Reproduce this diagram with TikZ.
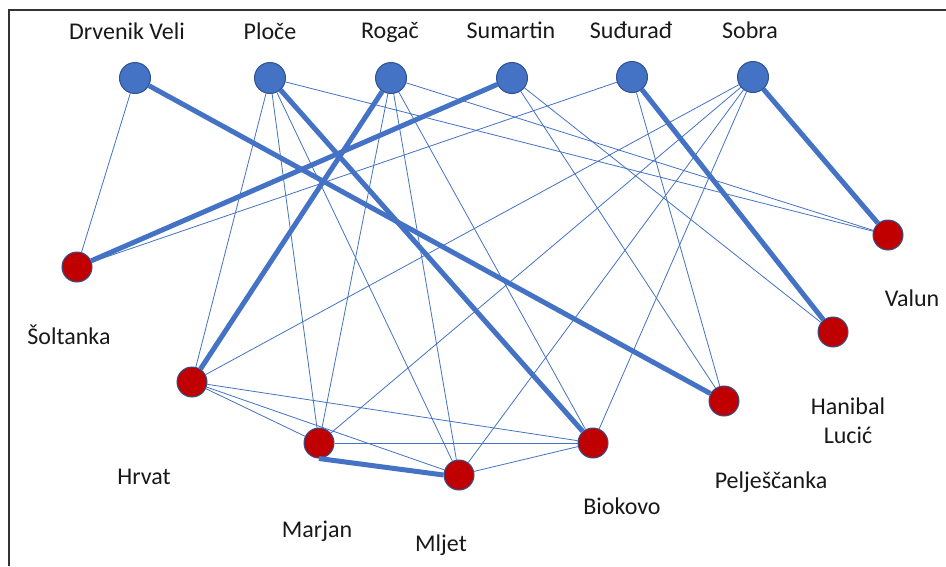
\documentclass[tikz,border=0pt]{standalone}
\usepackage{fontspec}
\setmainfont{Carlito}
\definecolor{nodeblue}{HTML}{4472C4}
\definecolor{rimblue}{HTML}{2F528F}
\definecolor{nodered}{HTML}{C00000}
\definecolor{lineblue}{HTML}{4472C4}
\begin{document}
\begin{tikzpicture}[x=1pt,y=-1pt,
  island/.style={circle, fill=nodeblue, draw=rimblue, line width=1pt, minimum size=31pt, inner sep=0pt},
  boat/.style={circle, fill=nodered, draw=rimblue, line width=1pt, minimum size=30pt, inner sep=0pt},
  lbl/.style={anchor=base, font=\fontsize{24}{26}\selectfont, text=black!90, inner sep=0pt, align=center},
  weak/.style={draw=lineblue, line width=0.8pt},
  strong/.style={draw=lineblue, line width=5pt},
]
\useasboundingbox (0,0) rectangle (946,566);
\fill[white] (0,0) rectangle (946,566);
\draw[black!80, line width=1.5pt] (9,566) -- (9,10) -- (946,10);

% top row (blue)
\node[island] (dv) at (135,78) {};
\node[island] (pl) at (270,78) {};
\node[island] (ro) at (391,78) {};
\node[island] (su) at (512,78) {};
\node[island] (sd) at (632,77) {};
\node[island] (so) at (753,77) {};

% red nodes
\node[boat] (sol) at (77,267) {};
\node[boat] (val) at (888,235) {};
\node[boat] (han) at (833,332) {};
\node[boat] (pel) at (724,401) {};
\node[boat] (bio) at (593,443) {};
\node[boat] (mlj) at (459,475) {};
\node[boat] (mar) at (319,443) {};
\node[boat] (hrv) at (192,382) {};

% labels
\node[lbl] (tdv) at (127,39) {Drvenik Veli};
\node[lbl] (tpl) at (270,39) {Ploče};
\node[lbl] (tro) at (390,38) {Rogač};
\node[lbl] (tsu) at (511,38) {Sumartin};
\node[lbl] (tsd) at (631,38) {Suđurađ};
\node[lbl] (tso) at (750,38) {Sobra};
\node[lbl] (tsol) at (69,344) {Šoltanka};
\node[lbl] (thrv) at (144,484) {Hrvat};
\node[lbl] (tmar) at (317,537) {Marjan};
\node[lbl] (tmlj) at (441,551) {Mljet};
\node[lbl] (tbio) at (622,514) {Biokovo};
\node[lbl] (tpel) at (771,488) {Pelješčanka};
\node[lbl] (than1) at (848,414) {Hanibal};
\node[lbl] (than2) at (848,443) {Lucić};
\node[lbl] (tval) at (912,306) {Valun};

% thin edges
\draw[weak] (dv) -- (sol);
\draw[weak] (pl) -- (hrv);
\draw[weak] (pl) -- (mar);
\draw[weak] (pl) -- (mlj);
\draw[weak] (pl) -- (val);
\draw[weak] (ro) -- (mar);
\draw[weak] (ro) -- (mlj);
\draw[weak] (ro) -- (bio);
\draw[weak] (ro) -- (val);
\draw[weak] (su) -- (pel);
\draw[weak] (su) -- (han);
\draw[weak] (sd) -- (sol);
\draw[weak] (sd) -- (pel);
\draw[weak] (so) -- (hrv);
\draw[weak] (so) -- (mar);
\draw[weak] (so) -- (mlj);
\draw[weak] (so) -- (bio);
\draw[weak] (hrv) -- (mar);
\draw[weak] (hrv) -- (mlj);
\draw[weak] (hrv) -- (bio);
\draw[weak] (mar) -- (bio);
\draw[weak] (mlj) -- (bio);

% thick edges
\draw[strong] (dv) -- (pel);
\draw[strong] (pl) -- (bio);
\draw[strong] (ro) -- (hrv);
\draw[strong] (su) -- (sol);
\draw[strong] (sd) -- (han);
\draw[strong] (so) -- (val);
\draw[strong] (mar.south) -- (mlj.west);
\end{tikzpicture}
\end{document}
